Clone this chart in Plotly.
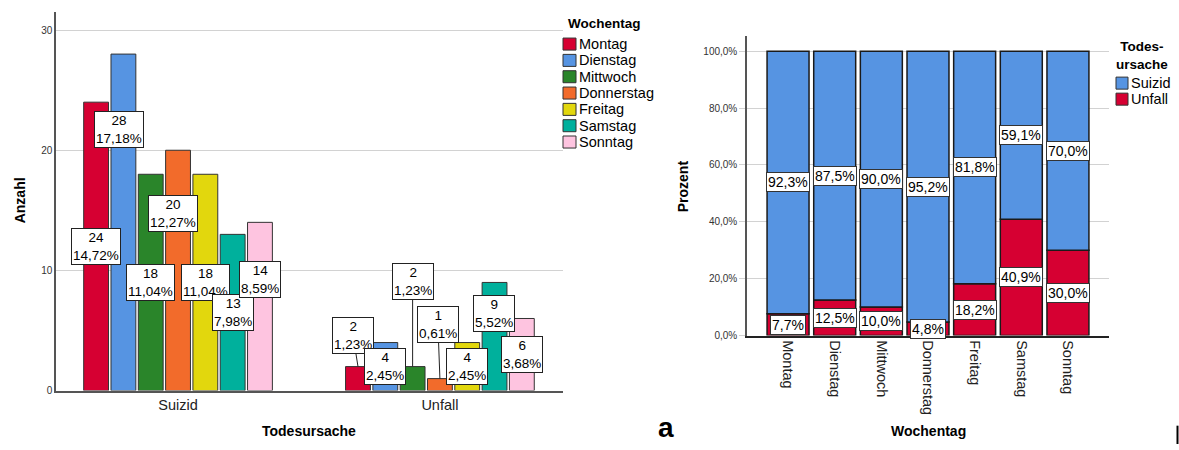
import plotly.graph_objects as go

# ---- data -------------------------------------------------------------
days = ["Montag", "Dienstag", "Mittwoch", "Donnerstag", "Freitag", "Samstag", "Sonntag"]
causes = ["Suizid", "Unfall"]
suizid_counts = [24, 28, 18, 20, 18, 13, 14]
unfall_counts = [2, 4, 2, 1, 4, 9, 6]

count_ticks = [0, 10, 20, 30]
percent_ticks = [0, 20, 40, 60, 80, 100]

# ---- styling ----------------------------------------------------------
W, H = 1179, 450
ROWS = 443.3          # height of the vertical placement grid in px
FONT = "Liberation Sans, Arial, sans-serif"
day_colors = ["#D60032", "#5694E2", "#2A852A", "#F26B2B", "#E2D70D", "#00B09C", "#FEC4E0"]
cause_colors = {"Suizid": "#5694E2", "Unfall": "#D60032"}
GRID = "#d2d2d2"
EDGE = "#333333"

BARGAP, BARGROUPGAP = 0.27, 0.09


def fx(px):
    """pixel column -> paper x"""
    return px / W


def fy(py):
    """grid row (from top) -> paper y"""
    return 1 - py / ROWS


def dpy(v):
    """vertical grid offset -> layout pixels"""
    return v * H / ROWS


def de(num, digits):
    """number with German decimal comma"""
    return f"{num:.{digits}f}".replace(".", ",")


counts = {"Suizid": suizid_counts, "Unfall": unfall_counts}
total = sum(suizid_counts) + sum(unfall_counts)

fig = go.Figure()

# ---- left: grouped counts by cause of death ---------------------------
for i, day in enumerate(days):
    fig.add_trace(go.Bar(
        x=causes,
        y=[suizid_counts[i], unfall_counts[i]],
        name=day,
        marker=dict(color=day_colors[i], line=dict(color=EDGE, width=1)),
        xaxis="x", yaxis="y",
        showlegend=False,
    ))

# label boxes that were nudged to avoid overlaps (pixel offsets)
label_shift = {
    ("Suizid", "Dienstag"): (-4, 91),
    ("Suizid", "Donnerstag"): (-5, 56),
    ("Suizid", "Sonntag"): (0, 27),
    ("Unfall", "Samstag"): (-1, 23),
}
# label boxes connected to their bar with a leader line (pixel offsets)
label_leader = {
    ("Unfall", "Montag"): (-5, -31),
    ("Unfall", "Mittwoch"): (0, -84),
    ("Unfall", "Donnerstag"): (-2, -53),
}

annotations = []
slot = (1 - BARGAP) / len(days)
box = dict(bgcolor="white", bordercolor="#222222", borderwidth=1, borderpad=1,
           xanchor="center", yanchor="middle",
           font=dict(family=FONT, size=13.5, color="black"))

for ci, cause in enumerate(causes):
    for i, day in enumerate(days):
        v = counts[cause][i]
        xc = ci - (1 - BARGAP) / 2 + (i + 0.5) * slot
        text = f"{v}<br>{de(100 * v / total, 2)}%"
        key = (cause, day)
        if key in label_leader:
            ax, ay = label_leader[key]
            annotations.append(dict(xref="x", yref="y", x=xc, y=v, text=text,
                                    showarrow=True, arrowhead=0, arrowwidth=1,
                                    arrowcolor="#222222", standoff=0,
                                    ax=ax, ay=dpy(ay), **box))
        else:
            dx, dy = label_shift.get(key, (0, 0))
            annotations.append(dict(xref="x", yref="y", x=xc, y=v / 2, text=text,
                                    showarrow=False, xshift=dx, yshift=dpy(dy), **box))

# ---- right: share of each cause per weekday ---------------------------
pct_unfall = [100 * u / (s + u) for s, u in zip(suizid_counts, unfall_counts)]
pct_suizid = [100 * s / (s + u) for s, u in zip(suizid_counts, unfall_counts)]

fig.add_trace(go.Bar(
    x=days, y=pct_unfall, name="Unfall", offsetgroup="pct", width=0.9,
    marker=dict(color=cause_colors["Unfall"], line=dict(color="#1a1a1a", width=1.5)),
    xaxis="x2", yaxis="y2", showlegend=False,
))
fig.add_trace(go.Bar(
    x=days, y=pct_suizid, base=pct_unfall, name="Suizid", offsetgroup="pct", width=0.9,
    marker=dict(color=cause_colors["Suizid"], line=dict(color="#1a1a1a", width=1.5)),
    xaxis="x2", yaxis="y2", showlegend=False,
))

box1 = dict(bgcolor="white", bordercolor="#333333", borderwidth=1, borderpad=1,
            xanchor="center", yanchor="middle",
            font=dict(family=FONT, size=14, color="black"), showarrow=False)
for day, pu, ps in zip(days, pct_unfall, pct_suizid):
    annotations.append(dict(xref="x2", yref="y2", x=day, y=pu / 2,
                            text=f"{de(pu, 1)}%", **box1))
    annotations.append(dict(xref="x2", yref="y2", x=day, y=pu + ps / 2,
                            text=f"{de(ps, 1)}%", **box1))

# ---- axis titles --------------------------------------------------------
title_font = dict(family=FONT, size=14, color="black")
centered = dict(xref="paper", yref="paper", xanchor="center", yanchor="middle",
                showarrow=False)
annotations += [
    dict(x=fx(20), y=fy(200), text="<b>Anzahl</b>", textangle=-90,
         font=title_font, **centered),
    dict(x=fx(309), y=fy(430), text="<b>Todesursache</b>", font=title_font, **centered),
    dict(x=fx(683), y=fy(186), text="<b>Prozent</b>", textangle=-90,
         font=title_font, **centered),
    dict(x=fx(928), y=fy(430), text="<b>Wochentag</b>", font=title_font, **centered),
]
# panel letter, sitting on the bottom edge
annotations.append(dict(xref="paper", yref="paper", x=fx(666), y=0,
                        xanchor="center", yanchor="bottom", text="<b>a</b>",
                        showarrow=False, borderpad=0,
                        font=dict(family=FONT, size=28, color="black")))

# ---- legends -----------------------------------------------------------
shapes = []
legend_font = dict(family=FONT, size=14.5, color="black")

annotations.append(dict(xref="paper", yref="paper", x=fx(566), y=fy(23),
                        xanchor="left", yanchor="middle", text="<b>Wochentag</b>",
                        showarrow=False, font=dict(family=FONT, size=13.5, color="black")))
for i, day in enumerate(days):
    yc = 44 + i * 16.3
    shapes.append(dict(type="rect", xref="paper", yref="paper",
                       x0=fx(563), x1=fx(576), y0=fy(yc + 6), y1=fy(yc - 6),
                       fillcolor=day_colors[i], line=dict(color=EDGE, width=1)))
    annotations.append(dict(xref="paper", yref="paper", x=fx(577), y=fy(yc),
                            xanchor="left", yanchor="middle", text=day,
                            showarrow=False, font=legend_font))

annotations.append(dict(text="<b>Todes-<br>ursache</b>", x=fx(1142), y=fy(55),
                        font=dict(family=FONT, size=13.5, color="black"), **centered))
for i, cause in enumerate(causes):
    yc = 83 + i * 16
    shapes.append(dict(type="rect", xref="paper", yref="paper",
                       x0=fx(1116), x1=fx(1128), y0=fy(yc + 6), y1=fy(yc - 6),
                       fillcolor=cause_colors[cause], line=dict(color=EDGE, width=1)))
    annotations.append(dict(xref="paper", yref="paper", x=fx(1129), y=fy(yc),
                            xanchor="left", yanchor="middle", text=cause,
                            showarrow=False, font=legend_font))

# panel separator mark at the bottom right
shapes.append(dict(type="line", xref="paper", yref="paper",
                   x0=fx(1177.5), x1=fx(1177.5), y0=fy(425), y1=0,
                   line=dict(color="black", width=2)))

# ---- layout --------------------------------------------------------------
fig.update_layout(
    width=W, height=H, autosize=False,
    margin=dict(l=0, r=0, t=0, b=0, pad=0),
    paper_bgcolor="white", plot_bgcolor="white",
    font=dict(family=FONT, color="black"),
    barmode="group", bargap=BARGAP, bargroupgap=BARGROUPGAP,
    separators=",.",
    showlegend=False,
    annotations=annotations,
    shapes=shapes,
    xaxis=dict(domain=[fx(56), fx(563)], anchor="y", type="category",
               categoryorder="array", categoryarray=causes,
               range=[-0.466, 1.47], showline=True, linecolor="#555555", linewidth=1.5,
               ticks="", showgrid=False, zeroline=False,
               tickfont=dict(family=FONT, size=14.5, color="#222222")),
    yaxis=dict(domain=[fy(390), fy(12)], anchor="x", range=[0, 31.5],
               tickvals=count_ticks, showline=True, linecolor="#555555", linewidth=1.5,
               showgrid=True, gridcolor=GRID, gridwidth=1, zeroline=False, ticks="",
               tickfont=dict(family=FONT, size=10, color="#333333")),
    xaxis2=dict(domain=[fx(747), fx(1109)], anchor="y2", type="category",
                categoryorder="array", categoryarray=days,
                range=[-0.88, 6.88], showline=True, linecolor="#222222", linewidth=1.5,
                ticks="", tickangle=90, showgrid=False, zeroline=False,
                tickfont=dict(family=FONT, size=14.5, color="#222222")),
    yaxis2=dict(domain=[fy(335), fy(36)], anchor="x2", range=[0, 105.3],
                tickvals=percent_ticks,
                ticktext=[f"{de(v, 1)}%" for v in percent_ticks],
                showline=True, linecolor="#555555", linewidth=1.5,
                showgrid=True, gridcolor=GRID, gridwidth=1, zeroline=False,
                ticks="outside", ticklen=6, tickcolor=GRID,
                tickfont=dict(family=FONT, size=10, color="#333333")),
)

fig.write_html("out.html", config={"displayModeBar": False, "responsive": False})
